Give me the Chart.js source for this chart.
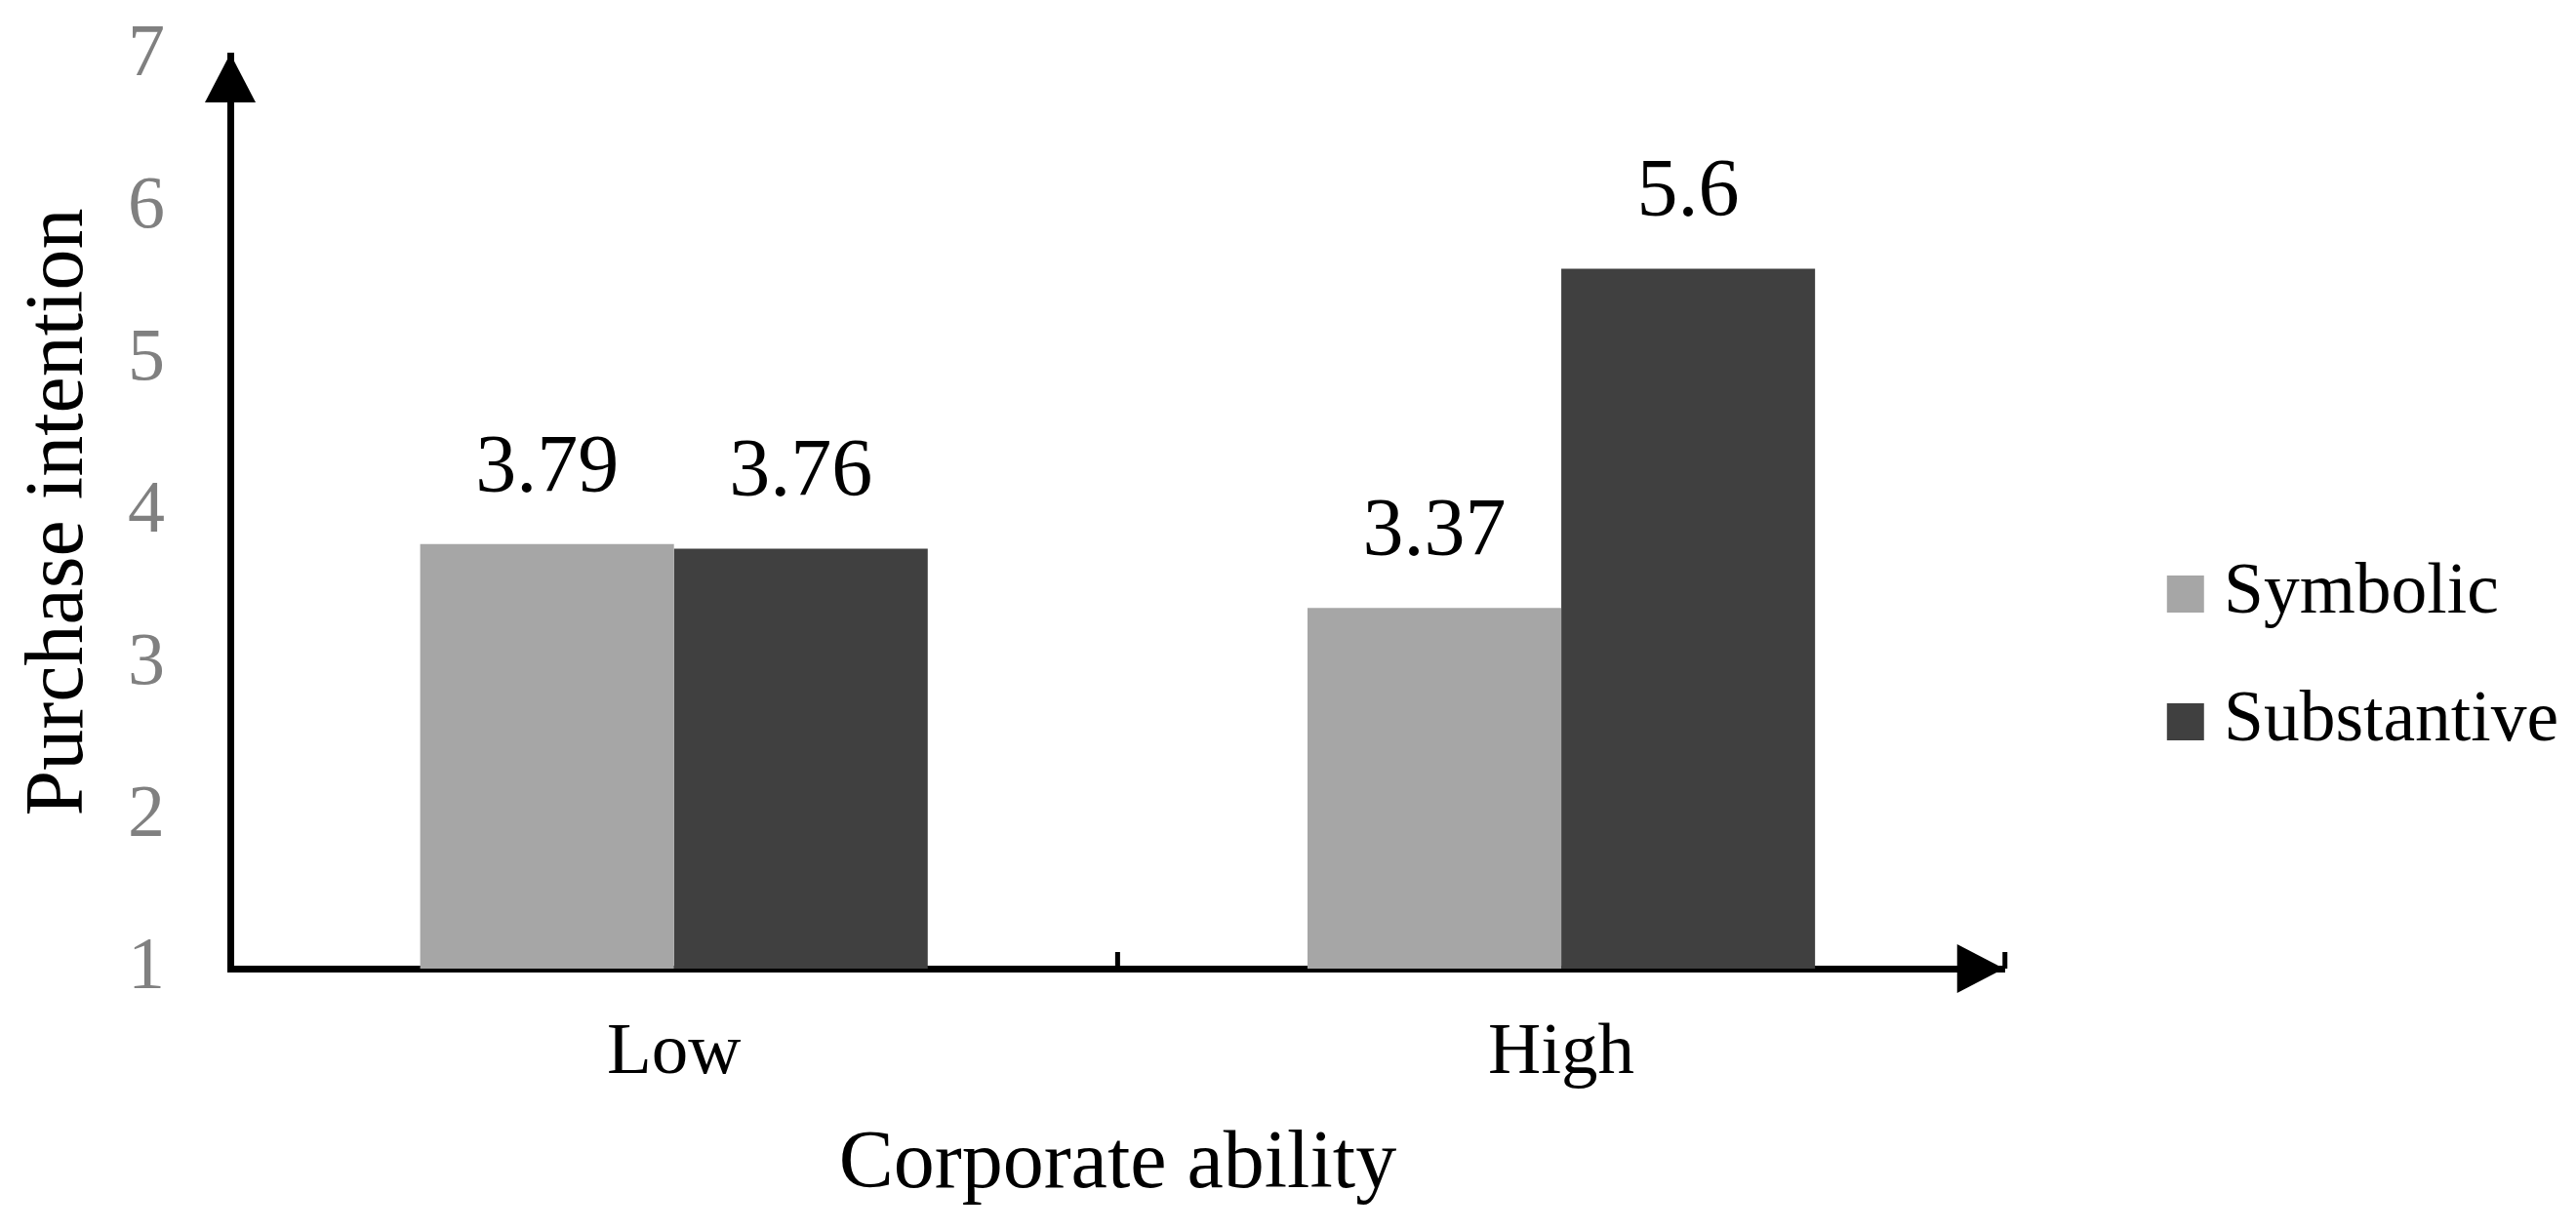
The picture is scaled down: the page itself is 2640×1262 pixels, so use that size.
<!DOCTYPE html>
<html>
<head>
<meta charset="utf-8">
<script src="https://cdn.jsdelivr.net/npm/chart.js@4/dist/chart.umd.min.js"></script>
<style>
  html, body { margin: 0; padding: 0; background: #fff; }
  #wrap { width: 2640px; height: 1262px; }
</style>
</head>
<body>
<div id="wrap"><canvas id="barChart"></canvas></div>
<script>
const categories = ['Low', 'High'];
const seriesNames = ['Symbolic', 'Substantive'];
const symbolic = [3.79, 3.37];
const substantive = [3.76, 5.6];
const yMin = 1;
const yMax = 7;

Chart.defaults.font.family = '"Liberation Serif", "Times New Roman", serif';
Chart.defaults.color = '#000';

// arrow heads on the axes + small tick marks between categories
const axisArrows = {
  id: 'axisArrows',
  afterDraw(chart) {
    const { ctx, chartArea: { left, right, top, bottom }, scales: { x } } = chart;
    ctx.save();
    ctx.fillStyle = '#000';
    ctx.beginPath();
    ctx.moveTo(left, top - 2);
    ctx.lineTo(left - 26, top + 48);
    ctx.lineTo(left + 26, top + 48);
    ctx.closePath();
    ctx.fill();

    ctx.beginPath();
    ctx.moveTo(right - 1, bottom);
    ctx.lineTo(right - 49, bottom - 25);
    ctx.lineTo(right - 49, bottom + 25);
    ctx.closePath();
    ctx.fill();

    for (let k = 1; k <= categories.length; k++) {
      const px = x.getPixelForValue(k - 0.5);
      ctx.fillRect(px - 2.5, bottom - 17, 5, 17);
    }
    ctx.restore();
  }
};

// value labels above the bars
const valueLabels = {
  id: 'valueLabels',
  afterDatasetsDraw(chart) {
    const { ctx } = chart;
    ctx.save();
    ctx.font = '84px "Liberation Serif"';
    ctx.fillStyle = '#000';
    ctx.textAlign = 'center';
    ctx.textBaseline = 'alphabetic';
    chart.data.datasets.forEach((ds, i) => {
      chart.getDatasetMeta(i).data.forEach((bar, j) => {
        ctx.fillText(String(ds.data[j]), bar.x, bar.y - 54);
      });
    });
    ctx.restore();
  }
};

const ctx = document.getElementById('barChart').getContext('2d');

new Chart(ctx, {
  type: 'bar',
  data: {
    labels: categories,
    datasets: [
      {
        label: seriesNames[0],
        data: symbolic,
        backgroundColor: '#a6a6a6',
        borderWidth: 0
      },
      {
        label: seriesNames[1],
        data: substantive,
        backgroundColor: '#404040',
        borderWidth: 0
      }
    ]
  },
  options: {
    responsive: true,
    maintainAspectRatio: false,
    animation: false,
    categoryPercentage: 0.572,
    barPercentage: 1,
    layout: {
      padding: { top: 57, right: 8, bottom: 0, left: 0 }
    },
    plugins: {
      legend: {
        position: 'right',
        align: 'center',
        maxWidth: 700,
        title: { display: true, text: ' ', padding: 0, font: { size: 25 } },
        labels: {
          font: { size: 73.5 },
          color: '#000',
          padding: 57.5,
          usePointStyle: true,
          pointStyle: 'rect',
          boxWidth: 5,
          boxHeight: 38
        }
      },
      tooltip: { enabled: false }
    },
    scales: {
      x: {
        z: 1,
        grid: { display: false, drawTicks: false },
        border: { display: true, color: '#000', width: 7 },
        ticks: { font: { size: 75 }, color: '#000', padding: 42 },
        title: {
          display: true,
          text: 'Corporate ability',
          font: { size: 84 },
          color: '#000',
          padding: { top: 0, bottom: 17 }
        },
        afterFit: (scale) => { scale.height = 269; }
      },
      y: {
        min: yMin,
        max: yMax,
        grid: { display: false, drawTicks: false },
        border: { display: true, color: '#000', width: 7 },
        ticks: { stepSize: 1, font: { size: 76 }, color: '#808080', padding: 67 },
        title: {
          display: true,
          text: 'Purchase intention',
          font: { size: 84 },
          color: '#000',
          padding: { top: 12, bottom: 0 }
        },
        afterFit: (scale) => {
          scale.width = 236;
          scale.paddingTop = 0;
          scale.paddingBottom = 0;
        }
      },
      gap: {
        type: 'linear',
        position: 'right',
        display: true,
        grid: { display: false, drawTicks: false },
        border: { display: false },
        ticks: { display: false },
        afterFit: (scale) => { scale.width = 125; }
      }
    }
  },
  plugins: [axisArrows, valueLabels]
});
</script>
</body>
</html>
